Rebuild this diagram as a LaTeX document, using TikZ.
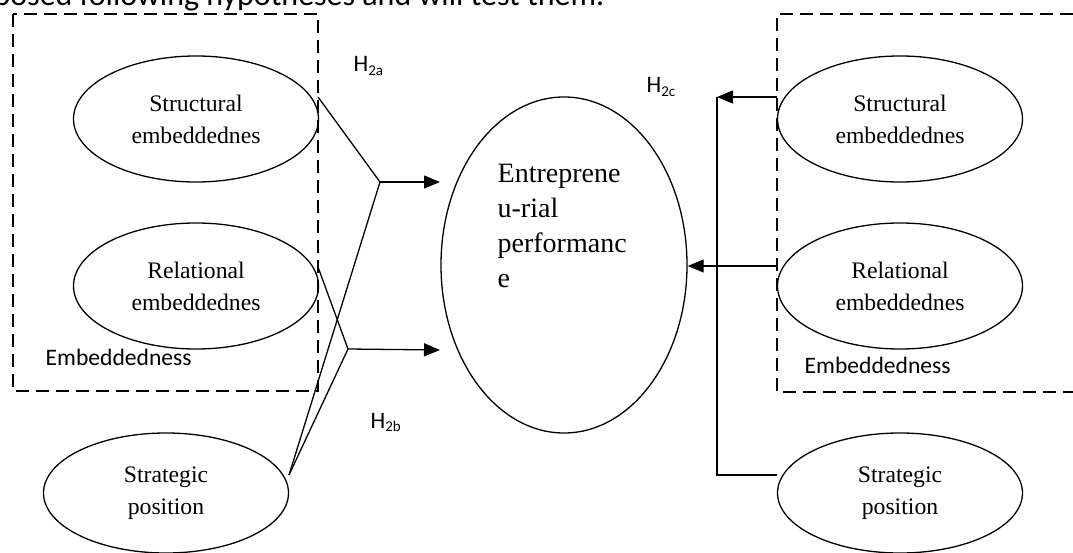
\documentclass[tikz,border=0pt]{standalone}
\usepackage{fontspec}
\setmainfont{Carlito}
\newfontfamily\seriffont{Liberation Serif}
\usetikzlibrary{shapes.geometric,arrows.meta}
\newcommand{\hyp}[1]{H\raisebox{-0.3ex}{\fontsize{15}{15}\selectfont #1}}

\begin{document}
\begin{tikzpicture}[x=1pt,y=-1pt,line width=1.3pt,
    every node/.style={inner sep=0pt},
    varnode/.style={draw,ellipse,minimum width=245pt,minimum height=126pt,align=center,
      font=\seriffont\fontsize{23.7}{32}\selectfont},
    groupbox/.style={dash pattern=on 13pt off 7pt},
    lab/.style={anchor=base west,font=\fontsize{23.6}{28}\selectfont},
    link/.style={-{Triangle[length=16pt,width=13pt]}}]
  \node[anchor=base east,font=\fontsize{32}{38}\selectfont] (intro) at (605,6)
    {posed following hypotheses and will test them.};
  % groups
  \draw[groupbox] (13,14) rectangle (318,391);
  \draw[groupbox] (1073,14) -- (777,14) -- (777,392) -- (1073,392);
  \node[lab] (lemb) at (45,365) {Embeddedness};
  \node[lab] (remb) at (804,373) {Embeddedness};
  % variables
  \node[varnode] (ls) at (196,119) {Structural\\embeddednes};
  \node[varnode] (lr) at (196,286) {Relational\\embeddednes};
  \node[varnode,minimum height=120pt] (lp) at (166,493) {Strategic\\position};
  \node[varnode] (rs) at (900,119) {Structural\\embeddednes};
  \node[varnode] (rr) at (900,286) {Relational\\embeddednes};
  \node[varnode,minimum height=120pt] (rp) at (900,493) {Strategic\\position};
  \node[draw,ellipse,minimum width=246pt,minimum height=336pt] (perf) at (564,265) {};
  \node[anchor=north west,align=left,font=\seriffont\fontsize{28}{35}\selectfont] (perftext)
    at (497,164) {Entreprene\\u-rial\\performanc\\e};
  % hypotheses
  \node[lab] (h2a) at (353,72) {\hyp{2a}};
  \node[lab] (h2b) at (370,428) {\hyp{2b}};
  \node[lab] (h2c) at (646,93) {\hyp{2c}};
  % left links
  \coordinate (ls out) at (318,97);
  \coordinate (lr out) at (318,267);
  \coordinate (lp out) at (289,475);
  \coordinate (ja) at (380,182);
  \coordinate (jb) at (348,349);
  \coordinate (ta) at (440,182);
  \coordinate (tb) at (440,350);
  \draw (ls out) -- (ja);
  \draw (ja) -- (lp out);
  \draw (lr out) -- (jb);
  \draw (jb) -- (lp out);
  \draw[link] (ja) -- (ta);
  \draw[link] (jb) -- (tb);
  % right links
  \coordinate (rs out) at (777,97);
  \coordinate (rr out) at (777,266);
  \coordinate (rp out) at (777,475);
  \coordinate (rbus) at (717,97);
  \draw[link] (rs out) -- (rbus);
  \draw (rp out) -- (rp out -| rbus) -- (rbus);
  \draw[link] (rr out) -- (rr out -| perf.east);
  \pgfresetboundingbox
  \useasboundingbox (0,0) rectangle (1073,553);
\end{tikzpicture}
\end{document}
